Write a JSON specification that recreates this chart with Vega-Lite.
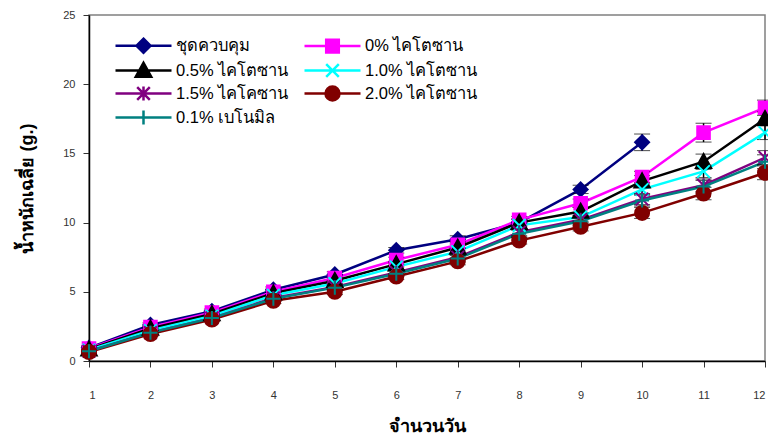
{
  "$schema": "https://vega.github.io/schema/vega-lite/v6.json",
  "width": 676,
  "height": 346,
  "autosize": "none",
  "padding": {"left": 89, "top": 15, "right": 3, "bottom": 75},
  "config": {
    "font": "Liberation Sans",
    "view": {"stroke": "#808080", "strokeWidth": 1.5},
    "axis": {
      "domainColor": "black", "domainWidth": 1.5, "tickColor": "#333", "tickSize": 6, "tickWidth": 1,
      "labelColor": "#333", "labelFontSize": 11, "labelFont": "Liberation Sans",
      "titleFontSize": 18, "titleFontWeight": "bold", "titleColor": "black", "grid": false
    },
    "legend": {
      "orient": "none", "legendX": 46, "legendY": 22, "columns": 2, "direction": "horizontal", "title": null,
      "labelFontSize": 16.5, "labelColor": "black", "labelFont": "Liberation Sans",
      "symbolSize": 196, "labelOffset": 24, "columnPadding": 10, "rowPadding": -1, "symbolStrokeWidth": 2.5
    }
  },
  "data": {"values": [
    {"series": "ชุดควบคุม", "day": 1, "w": 0.95, "err": 0.15},
    {"series": "ชุดควบคุม", "day": 2, "w": 2.6, "err": 0.15},
    {"series": "ชุดควบคุม", "day": 3, "w": 3.6, "err": 0.15},
    {"series": "ชุดควบคุม", "day": 4, "w": 5.15, "err": 0.2},
    {"series": "ชุดควบคุม", "day": 5, "w": 6.25, "err": 0.2},
    {"series": "ชุดควบคุม", "day": 6, "w": 8.0, "err": 0.2},
    {"series": "ชุดควบคุม", "day": 7, "w": 8.8, "err": 0.25},
    {"series": "ชุดควบคุม", "day": 8, "w": 10.0, "err": 0.25},
    {"series": "ชุดควบคุม", "day": 9, "w": 12.4, "err": 0.3},
    {"series": "ชุดควบคุม", "day": 10, "w": 15.8, "err": 0.6},
    {"series": "0% ไคโตซาน", "day": 1, "w": 0.9, "err": 0.15},
    {"series": "0% ไคโตซาน", "day": 2, "w": 2.45, "err": 0.15},
    {"series": "0% ไคโตซาน", "day": 3, "w": 3.5, "err": 0.15},
    {"series": "0% ไคโตซาน", "day": 4, "w": 5.0, "err": 0.2},
    {"series": "0% ไคโตซาน", "day": 5, "w": 6.0, "err": 0.2},
    {"series": "0% ไคโตซาน", "day": 6, "w": 7.3, "err": 0.2},
    {"series": "0% ไคโตซาน", "day": 7, "w": 8.4, "err": 0.25},
    {"series": "0% ไคโตซาน", "day": 8, "w": 10.2, "err": 0.25},
    {"series": "0% ไคโตซาน", "day": 9, "w": 11.4, "err": 0.3},
    {"series": "0% ไคโตซาน", "day": 10, "w": 13.3, "err": 0.4},
    {"series": "0% ไคโตซาน", "day": 11, "w": 16.5, "err": 0.68},
    {"series": "0% ไคโตซาน", "day": 12, "w": 18.3, "err": 0.55},
    {"series": "0.5% ไคโตซาน", "day": 1, "w": 0.85, "err": 0.15},
    {"series": "0.5% ไคโตซาน", "day": 2, "w": 2.35, "err": 0.15},
    {"series": "0.5% ไคโตซาน", "day": 3, "w": 3.4, "err": 0.15},
    {"series": "0.5% ไคโตซาน", "day": 4, "w": 4.9, "err": 0.2},
    {"series": "0.5% ไคโตซาน", "day": 5, "w": 5.8, "err": 0.2},
    {"series": "0.5% ไคโตซาน", "day": 6, "w": 7.0, "err": 0.2},
    {"series": "0.5% ไคโตซาน", "day": 7, "w": 8.2, "err": 0.25},
    {"series": "0.5% ไคโตซาน", "day": 8, "w": 10.0, "err": 0.25},
    {"series": "0.5% ไคโตซาน", "day": 9, "w": 10.8, "err": 0.3},
    {"series": "0.5% ไคโตซาน", "day": 10, "w": 13.0, "err": 0.4},
    {"series": "0.5% ไคโตซาน", "day": 11, "w": 14.4, "err": 0.55},
    {"series": "0.5% ไคโตซาน", "day": 12, "w": 17.5, "err": 0.5},
    {"series": "1.0% ไคโตซาน", "day": 1, "w": 0.8, "err": 0.15},
    {"series": "1.0% ไคโตซาน", "day": 2, "w": 2.2, "err": 0.15},
    {"series": "1.0% ไคโตซาน", "day": 3, "w": 3.25, "err": 0.15},
    {"series": "1.0% ไคโตซาน", "day": 4, "w": 4.75, "err": 0.2},
    {"series": "1.0% ไคโตซาน", "day": 5, "w": 5.6, "err": 0.2},
    {"series": "1.0% ไคโตซาน", "day": 6, "w": 6.8, "err": 0.2},
    {"series": "1.0% ไคโตซาน", "day": 7, "w": 7.9, "err": 0.25},
    {"series": "1.0% ไคโตซาน", "day": 8, "w": 9.8, "err": 0.25},
    {"series": "1.0% ไคโตซาน", "day": 9, "w": 10.4, "err": 0.3},
    {"series": "1.0% ไคโตซาน", "day": 10, "w": 12.4, "err": 0.4},
    {"series": "1.0% ไคโตซาน", "day": 11, "w": 13.7, "err": 0.45},
    {"series": "1.0% ไคโตซาน", "day": 12, "w": 16.5, "err": 0.5},
    {"series": "1.5% ไคโคซาน", "day": 1, "w": 0.7, "err": 0.15},
    {"series": "1.5% ไคโคซาน", "day": 2, "w": 2.05, "err": 0.15},
    {"series": "1.5% ไคโคซาน", "day": 3, "w": 3.1, "err": 0.15},
    {"series": "1.5% ไคโคซาน", "day": 4, "w": 4.55, "err": 0.2},
    {"series": "1.5% ไคโคซาน", "day": 5, "w": 5.35, "err": 0.2},
    {"series": "1.5% ไคโคซาน", "day": 6, "w": 6.4, "err": 0.2},
    {"series": "1.5% ไคโคซาน", "day": 7, "w": 7.5, "err": 0.25},
    {"series": "1.5% ไคโคซาน", "day": 8, "w": 9.3, "err": 0.25},
    {"series": "1.5% ไคโคซาน", "day": 9, "w": 10.2, "err": 0.3},
    {"series": "1.5% ไคโคซาน", "day": 10, "w": 11.7, "err": 0.4},
    {"series": "1.5% ไคโคซาน", "day": 11, "w": 12.7, "err": 0.45},
    {"series": "1.5% ไคโคซาน", "day": 12, "w": 14.7, "err": 0.5},
    {"series": "2.0% ไคโตซาน", "day": 1, "w": 0.65, "err": 0.15},
    {"series": "2.0% ไคโตซาน", "day": 2, "w": 1.95, "err": 0.15},
    {"series": "2.0% ไคโตซาน", "day": 3, "w": 3.0, "err": 0.15},
    {"series": "2.0% ไคโตซาน", "day": 4, "w": 4.35, "err": 0.2},
    {"series": "2.0% ไคโตซาน", "day": 5, "w": 5.0, "err": 0.2},
    {"series": "2.0% ไคโตซาน", "day": 6, "w": 6.1, "err": 0.2},
    {"series": "2.0% ไคโตซาน", "day": 7, "w": 7.2, "err": 0.25},
    {"series": "2.0% ไคโตซาน", "day": 8, "w": 8.7, "err": 0.25},
    {"series": "2.0% ไคโตซาน", "day": 9, "w": 9.7, "err": 0.3},
    {"series": "2.0% ไคโตซาน", "day": 10, "w": 10.7, "err": 0.4},
    {"series": "2.0% ไคโตซาน", "day": 11, "w": 12.1, "err": 0.45},
    {"series": "2.0% ไคโตซาน", "day": 12, "w": 13.6, "err": 0.5},
    {"series": "0.1% เบโนมิล", "day": 1, "w": 0.7, "err": 0.15},
    {"series": "0.1% เบโนมิล", "day": 2, "w": 2.05, "err": 0.15},
    {"series": "0.1% เบโนมิล", "day": 3, "w": 3.1, "err": 0.15},
    {"series": "0.1% เบโนมิล", "day": 4, "w": 4.5, "err": 0.2},
    {"series": "0.1% เบโนมิล", "day": 5, "w": 5.3, "err": 0.2},
    {"series": "0.1% เบโนมิล", "day": 6, "w": 6.3, "err": 0.2},
    {"series": "0.1% เบโนมิล", "day": 7, "w": 7.4, "err": 0.25},
    {"series": "0.1% เบโนมิล", "day": 8, "w": 9.2, "err": 0.25},
    {"series": "0.1% เบโนมิล", "day": 9, "w": 10.1, "err": 0.3},
    {"series": "0.1% เบโนมิล", "day": 10, "w": 11.6, "err": 0.4},
    {"series": "0.1% เบโนมิล", "day": 11, "w": 12.6, "err": 0.45},
    {"series": "0.1% เบโนมิล", "day": 12, "w": 14.4, "err": 0.5}
  ]},
  "layer": [
    {
      "mark": {"type": "line", "strokeWidth": 2.5},
      "encoding": {
        "x": {"field": "day", "type": "quantitative", "title": "จำนวนวัน",
              "scale": {"domain": [1, 12], "nice": false, "zero": false},
              "axis": {"values": [1,2,3,4,5,6,7,8,9,10,11,12], "labelPadding": 22, "titlePadding": 17, "format": "d"}},
        "y": {"field": "w", "type": "quantitative", "title": "น้ำหนักเฉลี่ย (g.)",
              "scale": {"domain": [0, 25], "nice": false},
              "axis": {"values": [0,5,10,15,20,25], "labelPadding": 8, "titlePadding": 26}},
        "stroke": {"field": "series", "type": "nominal",
                   "scale": {"domain": ["ชุดควบคุม","0% ไคโตซาน","0.5% ไคโตซาน","1.0% ไคโตซาน","1.5% ไคโคซาน","2.0% ไคโตซาน","0.1% เบโนมิล"],
                             "range": ["#000080","#FF00FF","#000000","#00FFFF","#800080","#800000","#008080"]}}
      }
    },
    {
      "mark": {"type": "errorbar", "ticks": {"size": 16, "color": "black", "strokeWidth": 1.5}, "rule": {"color": "black", "strokeWidth": 1.5}},
      "encoding": {
        "x": {"field": "day", "type": "quantitative", "title": "จำนวนวัน"},
        "y": {"field": "w", "type": "quantitative", "title": "น้ำหนักเฉลี่ย (g.)"},
        "yError": {"field": "err"}
      }
    },
    {
      "mark": {"type": "point", "filled": true, "size": 196, "strokeWidth": 2, "opacity": 1},
      "encoding": {
        "x": {"field": "day", "type": "quantitative", "title": "จำนวนวัน"},
        "y": {"field": "w", "type": "quantitative", "title": "น้ำหนักเฉลี่ย (g.)"},
        "stroke": {"field": "series", "type": "nominal"},
        "shape": {"field": "series", "type": "nominal", "legend": null,
                  "scale": {"domain": ["0.1% เบโนมิล","2.0% ไคโตซาน","1.5% ไคโคซาน","1.0% ไคโตซาน","0.5% ไคโตซาน","0% ไคโตซาน","ชุดควบคุม"],
                            "range": ["M-1,0H1M0,-1V1","M-1,0A1,1,0,1,1,1,0A1,1,0,1,1,-1,0Z","M-0.9,-0.9L0.9,0.9M-0.9,0.9L0.9,-0.9M0,-1V1","M-0.9,-0.9L0.9,0.9M-0.9,0.9L0.9,-0.9","M0,-1.1L1.1,0.9H-1.1Z","M-0.9,-0.9H0.9V0.9H-0.9Z","M0,-1L1,0L0,1L-1,0Z"]}},
        "fill": {"field": "series", "type": "nominal",
                 "scale": {"domain": ["ชุดควบคุม","0% ไคโตซาน","0.5% ไคโตซาน","1.0% ไคโตซาน","1.5% ไคโคซาน","2.0% ไคโตซาน","0.1% เบโนมิล"],
                           "range": ["#000080","#FF00FF","#000000","#00FFFF","#800080","#800000","#008080"]},
                 "legend": {
                   "orient": "none",
                   "symbolType": {"expr": "['M-4,0H4M0,-1L1,0L0,1L-1,0Z','M-4,0H4M-0.9,-0.9H0.9V0.9H-0.9Z','M-4,0H4M0,-1.1L1.1,0.9H-1.1Z','M-4,0H4M-0.9,-0.9L0.9,0.9M-0.9,0.9L0.9,-0.9','M-4,0H4M-0.9,-0.9L0.9,0.9M-0.9,0.9L0.9,-0.9M0,-1V1','M-4,0H4M-1,0A1,1,0,1,1,1,0A1,1,0,1,1,-1,0Z','M-4,0H4M-1,0H1M0,-1V1'][indexof(['ชุดควบคุม','0% ไคโตซาน','0.5% ไคโตซาน','1.0% ไคโตซาน','1.5% ไคโคซาน','2.0% ไคโตซาน','0.1% เบโนมิล'], datum.value)]"},
                   "encode": {"symbols": {
                     "strokeWidth": {"value": 2.5},
                     "opacity": {"value": 1}
                   }}
                 }}
      }
    }
  ]
}
